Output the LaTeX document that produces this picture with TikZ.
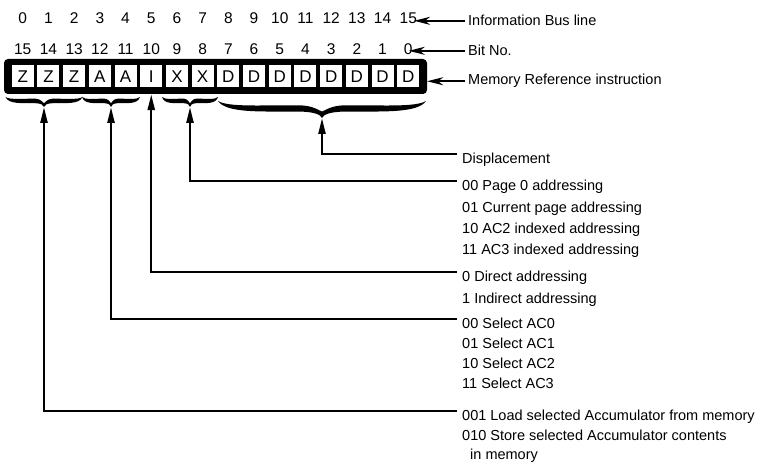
\documentclass[tikz,border=0pt]{standalone}
\usepackage{fontspec}
\setmainfont{Liberation Sans}
\usetikzlibrary{arrows.meta}
\tikzset{
  num/.style={font=\fontsize{15.5}{17}\selectfont, anchor=base, inner sep=0pt},
  lbl/.style={font=\fontsize{14.5}{17}\selectfont, anchor=base west, inner sep=0pt},
  cellbox/.style={fill=white, draw=none, minimum width=22pt, minimum height=22pt,
    inner sep=0pt, text height=12pt, text depth=0pt, font=\fontsize{17}{19}\selectfont},
  regbox/.style={fill=black, rounded corners=4pt, minimum width=423pt, minimum height=35pt, inner sep=0pt},
  conn/.style={line width=2.4pt},
  uparr/.style={conn, -{Triangle[length=16pt,width=7pt]}},
  leftarr/.style={line width=1.8pt, -{Stealth[length=16pt,width=8pt,inset=5pt]}},
  pics/cbrace/.style 2 args={code={
    \pgfmathsetmacro\bt{0.25*#2+2}
    \fill (-#1,0)
      .. controls ({-0.92*#1},{0.75*#2}) and ({-0.55*#1},{0.6*#2}) .. ({-0.22*#1},{0.62*#2})
      .. controls ({-0.07*#1},{0.64*#2}) and ({-0.015*#1},{0.8*#2}) .. (0,#2)
      .. controls ({0.015*#1},{0.8*#2}) and ({0.07*#1},{0.64*#2}) .. ({0.22*#1},{0.62*#2})
      .. controls ({0.55*#1},{0.6*#2}) and ({0.92*#1},{0.75*#2}) .. (#1,0)
      .. controls ({0.9*#1},{0.75*#2-\bt}) and ({0.55*#1},{0.6*#2-\bt}) .. ({0.22*#1},{0.62*#2-\bt})
      .. controls ({0.08*#1},{0.63*#2-\bt}) and ({0.02*#1},{0.6*#2}) .. (0,{0.62*#2})
      .. controls ({-0.02*#1},{0.6*#2}) and ({-0.08*#1},{0.63*#2-\bt}) .. ({-0.22*#1},{0.62*#2-\bt})
      .. controls ({-0.55*#1},{0.6*#2-\bt}) and ({-0.9*#1},{0.75*#2-\bt}) .. (-#1,0) -- cycle;
    \coordinate (-tip) at (0,#2);
  }}
}
\begin{document}
\begin{tikzpicture}[x=1pt,y=-1pt]
\fill[white] (0,0) rectangle (768,476);
\useasboundingbox (0,0) rectangle (768,476);

% register
\node[regbox] (reg) at (215.5,76.5) {};
\foreach \i/\l in {0/Z,1/Z,2/Z,3/A,4/A,5/I,6/X,7/X,8/D,9/D,10/D,11/D,12/D,13/D,14/D,15/D}{
  \pgfmathsetmacro\xc{22.75+25.7*\i}
  \pgfmathtruncatemacro\bn{15-\i}
  \node[cellbox] (c\i) at (\xc,76.5) {\l};
  \node[num] (t\i) at (\xc,24) {\i};
  \node[num] (b\i) at (\xc,55) {\bn};
}

% right-hand labels at top
\node[lbl] (info) at (468,26) {Information Bus line};
\node[lbl] (bitno) at (468,56) {Bit No.};
\node[lbl] (mem) at (468,85) {Memory Reference instruction};
\draw[leftarr, shorten <=3pt, shorten >=-3pt] (info.west) -- (info.west -| t15.east);
\draw[leftarr, shorten <=3pt, shorten >=-4pt] (bitno.west) -- (bitno.west -| b15.east);
\draw[leftarr, shorten <=3pt] (mem.west) -- (mem.west -| reg.east);

% braces
\pic (bZ) at (44,97) {cbrace={38.5}{10}};
\pic (bA) at (111,97) {cbrace={29}{10}};
\pic (bX) at (190,97) {cbrace={28}{10}};
\pic (bD) at (322,101) {cbrace={104}{17}};

% descriptions
\node[lbl] (disp) at (462,163) {Displacement};
\node[lbl] (p0) at (462,190) {00 Page 0 addressing};
\node[lbl] (p1) at (462,212) {01 Current page addressing};
\node[lbl] (p2) at (462,233) {10 AC2 indexed addressing};
\node[lbl] (p3) at (462,254) {11 AC3 indexed addressing};
\node[lbl] (d0) at (462,281) {0 Direct addressing};
\node[lbl] (d1) at (462,303) {1 Indirect addressing};
\node[lbl] (a0) at (462,328) {00 Select AC0};
\node[lbl] (a1) at (462,348) {01 Select AC1};
\node[lbl] (a2) at (462,368) {10 Select AC2};
\node[lbl] (a3) at (462,388) {11 Select AC3};
\node[lbl] (z0) at (462,420) {001 Load selected Accumulator from memory};
\node[lbl] (z1) at (462,440) {010 Store selected Accumulator contents};
\node[lbl] (z2) at (470,459) {in memory};

% connectors
\draw[uparr] ([xshift=-5pt,yshift=9pt]disp.base west) -| (bD-tip);
\draw[uparr] ([xshift=-5pt,yshift=9pt]p0.base west) -| (bX-tip);
\draw[uparr] ([xshift=-5pt,yshift=9pt]d0.base west) -| (c5.south |- reg.south);
\draw[uparr] ([xshift=-5pt,yshift=9pt]a0.base west) -| (bA-tip);
\draw[uparr] ([xshift=-5pt,yshift=9pt]z0.base west) -| (bZ-tip);
\end{tikzpicture}
\end{document}
